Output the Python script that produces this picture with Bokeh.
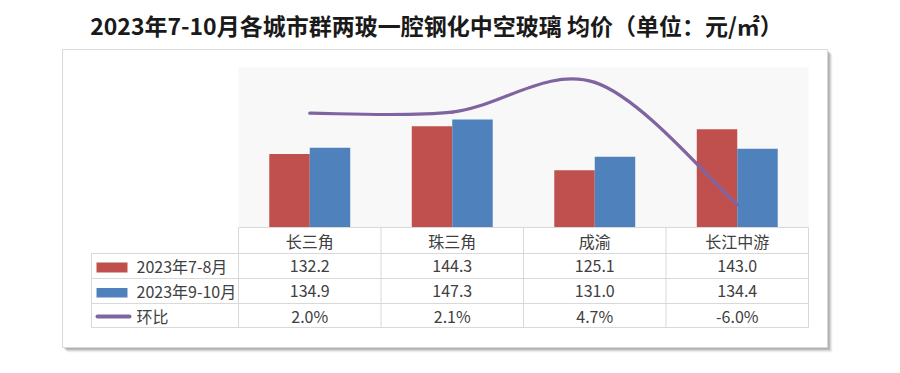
from bokeh.plotting import figure
from bokeh.models import Range1d
from bokeh.core.properties import value
from bokeh.embed import file_html
from bokeh.resources import INLINE

# ---- data ----
title_text = "2023年7-10月各城市群两玻一腔钢化中空玻璃 均价（单位：元/㎡）"
categories = ["长三角", "珠三角", "成渝", "长江中游"]
series1_name = "2023年7-8月"
series2_name = "2023年9-10月"
line_name = "环比"
series1 = [132.2, 144.3, 125.1, 143.0]
series2 = [134.9, 147.3, 131.0, 134.4]
ratio = [2.0, 2.1, 4.7, -6.0]
ratio_labels = ["2.0%", "2.1%", "4.7%", "-6.0%"]
y_min, y_max = 100, 170
p_min, p_max = -8, 6

# ---- colours / fonts ----
RED = "#C0504D"
BLUE = "#4F81BD"
PURPLE = "#8064A2"
GRID = "#D9D9D9"
TXT = "#404040"
FONT = "Noto Sans CJK SC"

W, H = 884, 357
OX, OY = 0, 0
# plot area in picture pixels
PL, PR, PT, PB = 238, 808, 67, 227
n = len(categories)
kx = (PR - PL) / n
x_start = -0.5 - (PL - OX) / kx
x_end = n - 0.5 + (OX + W - PR) / kx
ky = (PB - PT) / (y_max - y_min)
y_start = y_min - (OY + H - PB) / ky
y_end = y_max + (PT - OY) / ky
kp = (PB - PT) / (p_max - p_min)
p_start = p_min - (OY + H - PB) / kp
p_end = p_max + (PT - OY) / kp

p = figure(width=W, height=H, output_backend="svg", toolbar_location=None,
           x_range=Range1d(x_start, x_end), y_range=Range1d(y_start, y_end),
           x_axis_location=None, y_axis_location=None, min_border=0)
p.extra_x_ranges = {"px": Range1d(OX, OX + W)}
p.extra_y_ranges = {"px": Range1d(OY + H, OY), "pct": Range1d(p_start, p_end)}
p.grid.visible = False
p.outline_line_color = None
p.background_fill_color = "white"
p.border_fill_color = "white"

# ---- chart box with shadow ----
for off, a in [(5, 0.08), (4, 0.15), (3, 0.25), (2, 0.35)]:
    p.quad(left=[62 + off], right=[827 + off], top=[49 + off], bottom=[347 + off],
           fill_color="#808080", fill_alpha=a, line_color=None,
           x_range_name="px", y_range_name="px")
p.quad(left=[62], right=[827], top=[49], bottom=[347], fill_color="white",
       line_color=GRID, line_width=1, x_range_name="px", y_range_name="px")

# ---- title ----
p.text(x=[436], y=[24], text=[title_text], text_align="center", text_baseline="middle",
       text_font=value(FONT), text_font_size="23px", text_font_style="bold",
       text_color="#1a1a1a", x_range_name="px", y_range_name="px")

# ---- plot area background ----
p.quad(left=[-0.5], right=[n - 0.5], bottom=[y_min], top=[y_max],
       fill_color="#F8F8F8", line_color=None)

# ---- bars ----
xs = list(range(n))
bw = 0.284
p.vbar(x=[i - bw / 2 for i in xs], top=series1, bottom=y_min, width=bw,
       fill_color=RED, line_color=None)
p.vbar(x=[i + bw / 2 for i in xs], top=series2, bottom=y_min, width=bw,
       fill_color=BLUE, line_color=None)

# ---- smoothed ratio line (Bezier through points) ----
x0, y0, x1, y1, cx0, cy0, cx1, cy1 = [], [], [], [], [], [], [], []
for i in range(n - 1):
    pm = (xs[i - 1], ratio[i - 1]) if i > 0 else (xs[i], ratio[i])
    pa = (xs[i], ratio[i])
    pb = (xs[i + 1], ratio[i + 1])
    pn = (xs[i + 2], ratio[i + 2]) if i + 2 < n else (xs[i + 1], ratio[i + 1])
    x0.append(pa[0]); y0.append(pa[1]); x1.append(pb[0]); y1.append(pb[1])
    cx0.append(pa[0] + (pb[0] - pm[0]) / 6); cy0.append(pa[1] + (pb[1] - pm[1]) / 6)
    cx1.append(pb[0] - (pn[0] - pa[0]) / 6); cy1.append(pb[1] - (pn[1] - pa[1]) / 6)
p.bezier(x0=x0, y0=y0, x1=x1, y1=y1, cx0=cx0, cy0=cy0, cx1=cx1, cy1=cy1,
         line_color=PURPLE, line_width=3.2, line_cap="round", y_range_name="pct")

# ---- data table ----
row_tops = [227, 253, 278, 303, 327]
col_edges = [PL + kx * i for i in range(n + 1)]
p.segment(x0=[PL], x1=[PR], y0=[row_tops[0]], y1=[row_tops[0]], line_color=GRID,
          line_width=1, x_range_name="px", y_range_name="px")
p.segment(x0=[91] * 4, x1=[PR] * 4, y0=row_tops[1:], y1=row_tops[1:], line_color=GRID,
          line_width=1, x_range_name="px", y_range_name="px")
p.segment(x0=col_edges, x1=col_edges, y0=[row_tops[0]] * len(col_edges),
          y1=[row_tops[-1]] * len(col_edges), line_color=GRID, line_width=1,
          x_range_name="px", y_range_name="px")
p.segment(x0=[91], x1=[91], y0=[row_tops[1]], y1=[row_tops[-1]], line_color=GRID,
          line_width=1, x_range_name="px", y_range_name="px")

row_mid = [(row_tops[i] + row_tops[i + 1]) / 2 for i in range(4)]
for r, labels in enumerate([categories,
                            [f"{v:.1f}" for v in series1],
                            [f"{v:.1f}" for v in series2],
                            ratio_labels]):
    p.text(x=xs, y=[row_mid[r]] * n, text=labels, text_align="center",
           text_baseline="middle", text_font=value(FONT), text_font_size="16px",
           text_color=TXT, y_range_name="px")

# legend keys
p.quad(left=[96, 96], right=[127, 127], top=[262, 287.5], bottom=[272, 297],
       fill_color=[RED, BLUE], line_color=None, x_range_name="px", y_range_name="px")
p.segment(x0=[97], x1=[129], y0=[316], y1=[316], line_color=PURPLE, line_width=4,
          line_cap="round", x_range_name="px", y_range_name="px")
p.text(x=[136, 136, 136], y=row_mid[1:], text=[series1_name, series2_name, line_name],
       text_align="left", text_baseline="middle", text_font=value(FONT),
       text_font_size="16px", text_color=TXT, x_range_name="px", y_range_name="px")

open("out.html", "w").write(file_html(p, INLINE))
